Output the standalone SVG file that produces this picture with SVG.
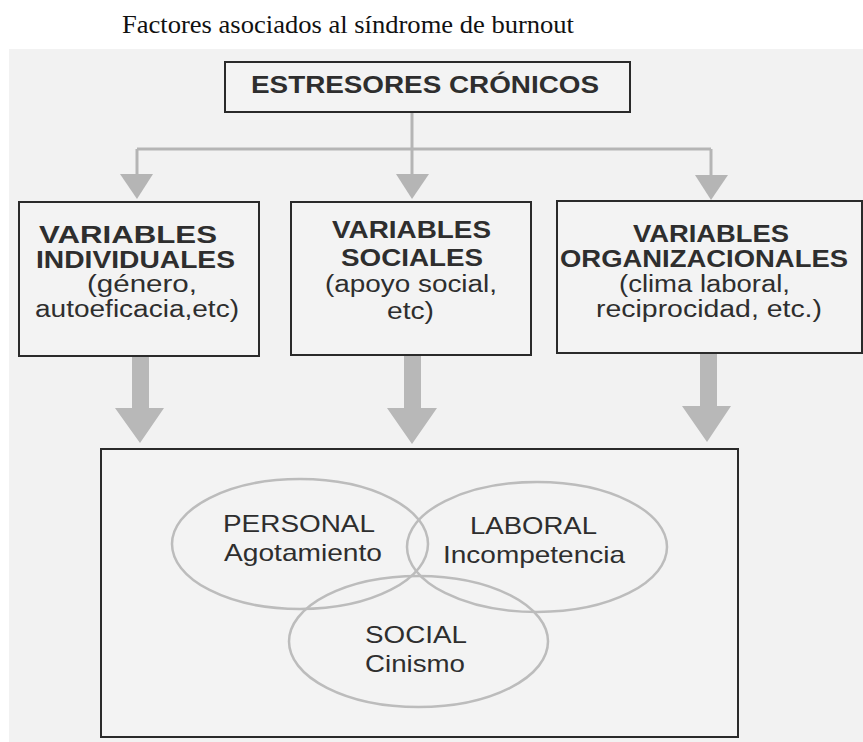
<svg xmlns="http://www.w3.org/2000/svg" width="863" height="742" viewBox="0 0 863 742">
<style>
.bg{fill:#f2f2f2}
.box{fill:#f3f3f3;stroke:#2a2a2a;stroke-width:2}
.ell{fill:none;stroke:#bcbcbc;stroke-width:2.5}
.thin{fill:none;stroke:#b5b5b5;stroke-width:3}
.head{fill:#b5b5b5}
.thick{fill:#b8b8b8}
.title{font-family:"Liberation Serif","Times New Roman",serif;font-size:26px;fill:#111}
.b{font-family:"Liberation Sans",Arial,Helvetica,sans-serif;font-size:23px;font-weight:bold;fill:#2e2e2e}
.r{font-family:"Liberation Sans",Arial,Helvetica,sans-serif;font-size:23px;fill:#2e2e2e}
.e{font-family:"Liberation Sans",Arial,Helvetica,sans-serif;font-size:24px;fill:#2e2e2e}
</style>
<rect x="0" y="0" width="863" height="742" fill="#ffffff"/>
<text class="title" x="122" y="33" textLength="452" lengthAdjust="spacingAndGlyphs">Factores asociados al síndrome de burnout</text>
<rect class="bg" x="9" y="49" width="854" height="693"/>

<g id="connectors">
  <path class="thin" d="M412,112 V149 M137,149 H711 M137,149 V176 M412,149 V176 M711,149 V176"/>
  <polygon class="head" points="120,174 153,174 137,199"/>
  <polygon class="head" points="396,174 429,174 412,199"/>
  <polygon class="head" points="695,175 728,175 711,200"/>
  <polygon class="thick" points="132,355 149,355 149,408 164,408 140,443 115,408 132,408"/>
  <polygon class="thick" points="404,355 421,355 421,408 437,408 412,444 387,408 404,408"/>
  <polygon class="thick" points="700,352 717,352 717,406 731,406 707,442 682,406 700,406"/>
</g>

<g id="estresores">
  <rect class="box" x="225" y="62" width="405" height="50"/>
  <text class="b" style="font-size:24px" x="251" y="93" textLength="348" lengthAdjust="spacingAndGlyphs">ESTRESORES CRÓNICOS</text>
</g>

<g id="individuales">
  <rect class="box" x="19" y="202" width="240" height="154"/>
  <text class="b" x="39" y="243" textLength="178" lengthAdjust="spacingAndGlyphs">VARIABLES</text>
  <text class="b" x="36" y="268" textLength="199" lengthAdjust="spacingAndGlyphs">INDIVIDUALES</text>
  <text class="r" x="87" y="292" textLength="110" lengthAdjust="spacingAndGlyphs">(género,</text>
  <text class="r" x="35" y="317" textLength="204" lengthAdjust="spacingAndGlyphs">autoeficacia,etc)</text>
</g>

<g id="sociales">
  <rect class="box" x="291" y="202" width="240" height="153"/>
  <text class="b" x="332" y="238" textLength="159" lengthAdjust="spacingAndGlyphs">VARIABLES</text>
  <text class="b" x="341" y="266" textLength="142" lengthAdjust="spacingAndGlyphs">SOCIALES</text>
  <text class="r" x="325" y="292" textLength="172" lengthAdjust="spacingAndGlyphs">(apoyo social,</text>
  <text class="r" x="387" y="319" textLength="47" lengthAdjust="spacingAndGlyphs">etc)</text>
</g>

<g id="organizacionales">
  <rect class="box" x="557" y="201" width="305" height="152"/>
  <text class="b" x="633" y="242" textLength="156" lengthAdjust="spacingAndGlyphs">VARIABLES</text>
  <text class="b" x="560" y="267" textLength="288" lengthAdjust="spacingAndGlyphs">ORGANIZACIONALES</text>
  <text class="r" x="619" y="292" textLength="171" lengthAdjust="spacingAndGlyphs">(clima laboral,</text>
  <text class="r" x="596" y="317" textLength="226" lengthAdjust="spacingAndGlyphs">reciprocidad, etc.)</text>
</g>

<g id="burnout">
  <rect class="box" x="101" y="449" width="637" height="288"/>
</g>

<g id="personal">
  <ellipse class="ell" cx="300" cy="544" rx="128" ry="65"/>
  <text class="e" x="223" y="532" textLength="152" lengthAdjust="spacingAndGlyphs">PERSONAL</text>
  <text class="e" x="224" y="561" textLength="158" lengthAdjust="spacingAndGlyphs">Agotamiento</text>
</g>

<g id="laboral">
  <ellipse class="ell" cx="537" cy="547" rx="130" ry="65"/>
  <text class="e" x="470" y="534" textLength="127" lengthAdjust="spacingAndGlyphs">LABORAL</text>
  <text class="e" x="443" y="563" textLength="182" lengthAdjust="spacingAndGlyphs">Incompetencia</text>
</g>

<g id="social">
  <ellipse class="ell" cx="418.5" cy="641.5" rx="129.5" ry="65.5"/>
  <text class="e" x="365" y="643" textLength="102" lengthAdjust="spacingAndGlyphs">SOCIAL</text>
  <text class="e" x="365" y="672" textLength="100" lengthAdjust="spacingAndGlyphs">Cinismo</text>
</g>
</svg>
